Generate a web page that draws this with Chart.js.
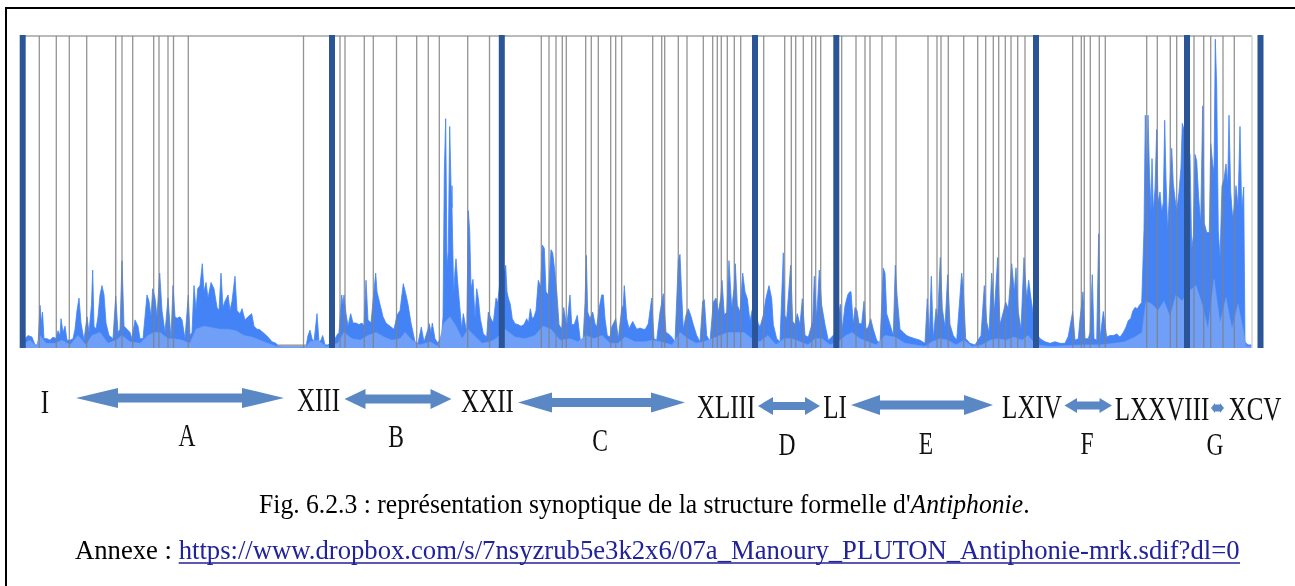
<!DOCTYPE html>
<html lang="fr">
<head>
<meta charset="utf-8">
<title>Antiphonie - structure formelle</title>
<script src="https://cdn.jsdelivr.net/npm/chart.js@4/dist/chart.umd.min.js"></script>
<style>
    html, body {
        margin: 0;
        padding: 0;
        background: #ffffff;
        width: 1295px;
        height: 586px;
        overflow: hidden;
    }
    #frame {
        position: absolute;
        left: 5px;
        top: 7px;
        width: 1400px;
        height: 700px;
        border-left: 2px solid #000;
        border-top: 2px solid #000;
    }
    #plotBox {
        position: absolute;
        left: 17px;
        top: 34px;
        width: 1250px;
        height: 314px;
    }
    #notes {
        position: absolute;
        left: 0;
        top: 0;
        width: 1295px;
        height: 586px;
        pointer-events: none;
    }
</style>
</head>
<body>
<div id="frame"></div>
<div id="plotBox"><canvas id="waveChart"></canvas></div>
<svg id="notes" xmlns="http://www.w3.org/2000/svg" width="1295" height="586"></svg>

<script>
// amplitude envelope (% of full scale), [time, value], one list per section
const peakA = [[0,0],[3,3],[6,4],[10,3.5],[13,1],[16,1],[18,13.7],[19.5,8],[20.5,11.5],[22,3],[25,3],[28,2.5],[31,3.5],[34,3],[36,5.5],[38,4],[39,9.4],[41,5],[43,7],[45,2.5],[48,2.5],[51,3],[53,6],[55,12],[57,16],[59,8],[62,2.5],[65,10],[67,5],[69.5,14],[70.7,25],[72,7],[74,6],[76,10],[78,17],[80,20],[82,17],[84,8],[87,4],[91,3],[93.7,16.7],[96,5],[98,6],[100,28],[102,7],[105,6],[108,5],[110,3],[113,9],[116,7],[118,3],[121,3],[125,17],[127,15],[129,10],[130.7,19],[133,16],[135,10],[137.7,24],[140,12],[143,5],[146,16],[149,3],[151,20],[153,10],[155,9.5],[158,10],[160,9],[163,3],[166.3,17],[168,4],[170,5],[172,20],[174,12],[175.7,19],[178,20],[180.3,27],[182,18],[184,21],[186,16],[189,21],[192,19],[195,13],[197,12],[199,24],[201,13],[203,15],[206,17],[208,12],[210,15],[213,23],[215,12],[218,11],[220,12.6],[223,9],[226,10],[229.7,11],[232,7],[235,6],[237,6],[241,5],[246,3.5],[250,2],[254,1.5],[257,0.5],[260,0.4],[284,0.4],[286,4],[288,5.7],[290,3],[292,2],[295,11],[297,2],[299,2.5],[300.7,4],[303,1],[306,1]];
const peakB = [[310,2],[313,3],[314.7,4],[317,5],[319.7,17],[321,14],[322,17],[324,11],[326,7],[328.7,11],[331,8],[334,8],[337,7.5],[340,8],[342,7],[344,21.7],[346,9],[349,8],[351,15],[353.7,24],[355,18],[358,14],[361,10],[364,8],[368,7],[372,6],[375,10.5],[378,12],[381.3,20.6],[384,17],[386,14],[389,8],[393,2],[396,1.5],[399.3,6.7],[402,2],[406,6],[407.3,7.8],[409,5],[410.3,8],[413,3],[416,1.5],[419.7,4],[421,10],[422.3,56],[423.7,73.5],[425,26],[426.3,31],[427.7,71],[429,52],[430,45],[431.7,17],[433,25],[434,28.6],[435.7,21],[437.3,15],[439.7,6],[441.3,11],[443,8],[444.7,5],[446.3,44],[447.7,37.7],[449,19],[451,22],[453,9.4],[454.7,19],[456.3,16],[458.3,9.4],[461.3,4.6],[464.7,3.5],[466.3,11.5],[469,9.4],[471.3,8],[474,16],[475.7,14.4],[477.5,20],[479.5,22]];
const peakC = [[481,22],[483.7,26.5],[485,18],[486.3,16],[488.3,14],[490.3,9.4],[493,7.8],[496,7.5],[499,7],[502,7.5],[504.7,9.4],[506.5,8],[508.3,12.6],[510.3,9.4],[512,10],[514,12],[516.3,21.7],[518.7,19.5],[520.3,33],[522.3,32],[524,18],[526.3,17],[529,31.5],[530.7,30.5],[533,24],[535,17],[537,7.5],[539.7,6],[541.7,13],[544.7,6.7],[548,17],[549.7,7.5],[552.3,7.5],[555.3,10.5],[558.3,2.5],[561,2],[563,14.4],[564.3,29.7],[565.7,11.5],[568,9.4],[570.7,11.5],[573,7.8],[574.7,6.7],[577,12.6],[579.7,17],[581.3,17],[583,9.4],[585.3,4],[588,3.5],[589.7,6.7],[593.7,9.4],[596.3,3],[599.7,12.6],[601.3,13.7],[602.3,20],[604.7,9.4],[607,6.2],[610.7,8.5],[614.7,6],[618,6.4],[621.3,6],[623.3,6],[626.3,7.8],[629.7,16],[632,3],[634.7,2.5],[638,11.5],[641.3,17.4],[644,5],[646.3,4.6],[649.7,3.5],[653,2],[656.3,28],[658,30],[659.3,20],[661.3,6],[664,10.5],[666.3,12.6],[668.7,10.5],[671.3,7.5],[674.7,4],[678,2],[680.7,15],[682.3,15.5],[684.7,4],[688,2],[691.3,14.7],[694,16],[696.3,11.5],[698.7,16],[700,21.7],[702.3,10.5],[704.7,11.5],[707,28],[709.7,12.6],[712,19],[713.3,27],[715.3,13.7],[718,11.5],[720.7,24],[723,18],[725.3,15.8],[728,8.5],[730,12],[733,14]];
const peakD = [[736,8],[738,6.7],[741.3,10.5],[744,16],[747,20],[749.7,15.8],[751.3,7.5],[754.7,3],[758,2],[761.3,30.5],[762.7,10.5],[764.7,9.4],[768.7,26.5],[770.7,8.5],[773,7.5],[775.3,11],[778,7.5],[780.3,15.8],[783,4],[786.3,3.5],[790.7,8.5],[792.3,23],[794.7,9.4],[797.3,25],[799.7,13.7],[803,7.5],[806.3,2.5],[809.7,3.5],[814,5]];
const peakE = [[818.3,14],[820.3,6],[823,13.5],[825.7,17],[827.7,18],[829,18],[831.3,7.5],[833,13],[835,12],[837,7.8],[839.7,7.8],[842,15],[844,6],[846.3,6.7],[848.7,9.4],[851.3,6],[854.7,2.5],[858,1.5],[861.3,25.6],[863,24],[864.7,11],[868,7.5],[871.3,4],[873.3,26.5],[875,17],[878,6],[881.3,5],[884.7,4],[888,3.5],[893,3],[898,2.5],[903,1.5],[905.3,15.8],[907.3,4],[909.3,23],[911.3,3],[914,12.6],[915.7,9.4],[918.3,29],[920.3,12.6],[923,6.7],[925.7,23.5],[928,7.5],[931.3,4],[934.7,2.5],[939.7,24],[941.3,19],[943.7,3],[948,1.5],[953,1],[959,4],[962.3,20],[964.7,8.3],[967,5],[969.7,24],[972.3,11.5],[975.7,29],[978,7.5],[981.3,11.5],[983.7,14.7],[986.3,12.6],[989.7,27],[992.3,18],[994,25.7],[996.3,11.5],[999,6],[1002,29],[1004.7,15.8],[1006.7,21.7],[1009,15.8],[1014,5]];
const peakF = [[1018,3],[1023,2],[1028,1.5],[1033,2],[1038,1.5],[1043,1.5],[1046.3,3.8],[1050.7,11.7],[1053,2.5],[1056.3,3],[1058,9.4],[1061,18],[1063,3],[1066.3,3],[1068,5],[1069.3,15.8],[1070.3,23.5],[1072,3],[1074.7,2.5],[1076.7,36.6],[1078,3],[1081.3,11.7],[1084.7,3.5],[1088,4],[1091.3,4],[1094.7,4.5],[1098,3.5],[1101.3,5],[1104,6.7],[1106.3,8.8],[1108.7,9.4],[1110.7,11.8],[1113,13],[1115.3,12.6],[1118,14],[1119.7,14.5],[1122,38],[1123.3,74.6],[1124.7,52],[1126,74.6],[1127.3,58],[1129,43.6],[1130,60.7],[1131.3,43.6],[1133,51],[1134.7,70],[1136,46.6],[1138,50],[1139.7,43.6],[1141.3,46.6],[1142.7,73],[1144,54],[1145.7,37.6],[1147.3,48.7],[1149.7,64],[1151.3,52.6],[1153,48],[1154.7,43.6],[1157,50],[1159,58],[1160.3,72],[1162,70],[1165,65]];
const peakG = [[1168,62],[1169.7,31.6],[1171.3,36],[1173,62],[1174.7,60],[1176.7,48],[1178.7,40],[1180.7,77.6],[1182.3,40],[1184.7,37],[1187.3,37],[1188.7,65.5],[1190.7,59],[1192,56],[1193.3,99],[1194.7,83.7],[1196.3,37.6],[1198,28.6],[1200,52],[1202,54],[1204,59],[1205.7,52],[1207,74.6],[1208.7,50],[1210.7,41.5],[1212,44.6],[1214,52],[1216,45.5],[1218,71],[1219.7,44],[1221.7,51.6],[1223,2],[1226,1],[1230,1]];

// mean level (lighter layer)
const rmsLevel = [[0,1],[8,2.5],[14,0.5],[18,4],[24,1.5],[33,1.5],[40,2.5],[48,1],[56,4],[64,1],[70,4],[78,5],[86,1.5],[94,2.5],[100,4],[108,2],[118,1.5],[126,4],[132,5],[138,5],[146,3],[152,3],[160,2.5],[168,1.5],[174,6],[182,7],[190,6.5],[198,6],[206,6],[214,5.5],[222,4],[230,3.5],[238,2.5],[246,1.5],[254,0.5],[260,0.3],[284,0.3],[288,2],[296,2.5],[304,0.5],[310,1],[316,1.5],[322,5],[330,3],[338,2.5],[346,4],[354,5],[362,3.5],[370,2.5],[378,3],[383,5],[390,2.5],[398,1],[408,2],[416,0.5],[422,8],[428,10],[434,7],[440,3],[446,6],[452,4],[460,1.5],[468,2],[474,3],[483,6],[493,3.5],[503,3],[513,4],[521,7],[529,6],[538,2.5],[548,3],[556,2],[564,4],[572,3],[580,4],[588,1.5],[596,1.5],[603,3.5],[613,2],[623,2],[630,2.5],[638,2],[644,1.5],[650,1],[658,5],[666,3],[674,1.5],[682,2],[690,3],[698,4],[706,5],[714,5],[722,5],[730,3],[738,2],[746,4],[754,1],[762,3],[770,3],[778,2],[786,1],[793,3],[800,3],[808,1],[816,2],[824,4],[830,5],[838,3],[846,2],[854,1],[863,4],[873,3.5],[883,1.5],[893,1],[903,0.5],[910,2],[918,3],[926,2.5],[934,1],[942,2.5],[950,0.5],[960,1],[968,2.5],[976,3],[984,2.5],[992,3.5],[1000,2.5],[1006,4],[1014,1],[1028,0.5],[1048,0.8],[1063,1],[1078,1],[1093,1.5],[1103,2],[1113,3.5],[1120,5],[1124,15],[1130,14],[1136,12],[1142,15],[1148,10],[1154,17],[1160,15],[1166,18],[1174,20],[1180,14],[1186,6],[1192,22],[1198,8],[1204,16],[1210,6],[1216,14],[1221,6],[1224,0.5],[1230,0.5]];

const silenceLevel = [[256,0.9],[284,0.9]];

// markers (thin grey) and section boundaries (thick blue)
const markerTimes = [17.3,34.3,47.3,64.7,93.7,100,110.7,131.7,137,146,151.5,166.3,281.5,318,323,342.3,351.3,374.5,394.7,406.3,417.3,445.7,467.5,519.3,527,534,540.3,544.3,563.7,569.3,576.3,588.7,593.7,599.7,630.7,639.7,642.7,656.3,665,681.3,690.7,695.3,699.3,705.3,712.3,718.7,741.7,762.7,769.3,773.7,781.3,789.7,793.7,798.7,819.7,834,843,848,860,874,906,915,919,926.3,941.7,955.7,963.7,971.3,976.7,983.3,989,995.7,1003,1050.7,1059.3,1062.3,1068.3,1077.3,1083.3,1124.7,1135.3,1148.3,1154.7,1172,1181.7,1188.7,1201,1212.3];
const sectionBounds = [0.7, 310, 479.8, 733, 814.3, 1014, 1165, 1238.5];
const frameEnd = 1230;

const sectionNumerals = ['I', 'XIII', 'XXII', 'XLIII', 'LI', 'LXIV', 'LXXVIII', 'XCV'];
const sectionLetters = ['A', 'B', 'C', 'D', 'E', 'F', 'G'];
const captionMain = 'Fig. 6.2.3 : représentation synoptique de la structure formelle d\'';
const captionTitle = 'Antiphonie';
const annexLabel = 'Annexe : ';
const annexUrl = 'https://www.dropbox.com/s/7nsyzrub5e3k2x6/07a_Manoury_PLUTON_Antiphonie-mrk.sdif?dl=0';

// page layout of the annotation row (pixels)
const numeralLayout = [[45, 413], [318.5, 411], [487.5, 412], [726, 418], [835, 418], [1032, 418], [1162, 420], [1255, 420]];
const letterLayout = [[187, 446], [396, 447], [600, 451], [787, 455], [926, 454], [1087, 454], [1215, 455]];
// x1, x2, centre y, head length, head height, shaft height
const arrowLayout = [
    [76, 284, 398, 42, 20, 9],
    [344.5, 451.5, 399, 21, 20, 9],
    [518, 685, 402.5, 34, 20, 9],
    [758, 820, 406, 15, 18, 8],
    [851, 993, 405, 29, 20, 9],
    [1064.5, 1112, 405.5, 12.5, 15, 8],
    [1211, 1224, 408, 4, 10, 7]
];
// caption lines: left x, right x, baseline
const captionLayout = [[259, 1030, 513], [75, 1240, 559]];

const toPoints = (list) => list.map(([x, y]) => ({ x, y }));

const markerLinesPlugin = {
    id: 'markerLines',
    afterDatasetsDraw(chart) {
        const { ctx, scales: { x, y } } = chart;
        const top = y.getPixelForValue(100);
        const bottom = y.getPixelForValue(0);
        ctx.save();

        // frame of the sonogram
        ctx.strokeStyle = '#a3a3a3';
        ctx.lineWidth = 1.6;
        ctx.beginPath();
        ctx.moveTo(x.getPixelForValue(0), top);
        ctx.lineTo(x.getPixelForValue(frameEnd), top);
        ctx.stroke();
        ctx.strokeStyle = '#d6d6d6';
        ctx.beginPath();
        ctx.moveTo(x.getPixelForValue(frameEnd), top);
        ctx.lineTo(x.getPixelForValue(frameEnd), bottom);
        ctx.stroke();

        ctx.strokeStyle = 'rgba(128, 128, 128, 0.85)';
        ctx.lineWidth = 1.3;
        markerTimes.forEach((t) => {
            const px = x.getPixelForValue(t);
            ctx.beginPath();
            ctx.moveTo(px, top);
            ctx.lineTo(px, bottom);
            ctx.stroke();
        });

        ctx.strokeStyle = '#2b5597';
        ctx.lineWidth = 6;
        sectionBounds.forEach((t) => {
            const px = x.getPixelForValue(t);
            ctx.beginPath();
            ctx.moveTo(px, top - 1);
            ctx.lineTo(px, bottom);
            ctx.stroke();
        });
        ctx.restore();
    }
};

class AntiphonieSynopsis {
    constructor() {
        this.chart = null;
        this.svg = document.getElementById('notes');
        this.initChart();
        this.drawAnnotations();
        this.drawCaption();
    }

    initChart() {
        const ctx = document.getElementById('waveChart').getContext('2d');
        const peak = [].concat(peakA, peakB, peakC, peakD, peakE, peakF, peakG);

        this.chart = new Chart(ctx, {
            type: 'line',
            data: {
                datasets: [{
                    label: 'rms',
                    data: toPoints(rmsLevel),
                    borderColor: '#6f9ff7',
                    backgroundColor: '#6f9ff7',
                    borderWidth: 0.6,
                    fill: 'origin',
                    tension: 0,
                    pointRadius: 0,
                    order: 0
                }, {
                    label: 'silence',
                    data: toPoints(silenceLevel),
                    borderColor: '#9c9c9c',
                    borderWidth: 1.5,
                    fill: false,
                    pointRadius: 0,
                    order: 0
                }, {
                    label: 'peak',
                    data: toPoints(peak),
                    borderColor: '#4383f6',
                    backgroundColor: '#4383f6',
                    borderWidth: 0.8,
                    fill: 'origin',
                    tension: 0,
                    pointRadius: 0,
                    order: 1
                }]
            },
            options: {
                responsive: true,
                maintainAspectRatio: false,
                animation: false,
                layout: {
                    padding: { top: 2, left: 0, right: 0, bottom: 0 }
                },
                plugins: {
                    legend: { display: false },
                    tooltip: { enabled: false }
                },
                scales: {
                    x: { type: 'linear', min: -5, max: 1245, display: false },
                    y: { min: 0, max: 100, display: false }
                }
            },
            plugins: [markerLinesPlugin]
        });
    }

    makeEl(tag, attrs, text, parent) {
        const el = document.createElementNS('http://www.w3.org/2000/svg', tag);
        Object.keys(attrs).forEach((k) => el.setAttribute(k, attrs[k]));
        if (text !== undefined) {
            el.textContent = text;
        }
        (parent || this.svg).appendChild(el);
        return el;
    }

    drawAnnotations() {
        arrowLayout.forEach(([x1, x2, cy, hl, hh, sh]) => {
            const pts = [
                [x1, cy], [x1 + hl, cy - hh / 2], [x1 + hl, cy - sh / 2],
                [x2 - hl, cy - sh / 2], [x2 - hl, cy - hh / 2], [x2, cy],
                [x2 - hl, cy + hh / 2], [x2 - hl, cy + sh / 2],
                [x1 + hl, cy + sh / 2], [x1 + hl, cy + hh / 2]
            ];
            this.makeEl('polygon', {
                points: pts.map((p) => p.join(',')).join(' '),
                fill: '#5a88c5'
            });
        });

        sectionNumerals.forEach((label, i) => {
            const [cx, base] = numeralLayout[i];
            this.makeEl('text', {
                transform: `translate(${cx},${base}) scale(0.76,1)`,
                'text-anchor': 'middle',
                'font-family': 'Liberation Serif, Times New Roman, serif',
                'font-size': '33',
                fill: '#111'
            }, label);
        });

        sectionLetters.forEach((label, i) => {
            const [cx, base] = letterLayout[i];
            this.makeEl('text', {
                transform: `translate(${cx},${base}) scale(0.76,1)`,
                'text-anchor': 'middle',
                'font-family': 'Liberation Serif, Times New Roman, serif',
                'font-size': '31',
                fill: '#111'
            }, label);
        });
    }

    // squeeze a caption line so it spans the same width as in the figure
    fitLine(textEl, left, right) {
        const width = textEl.getComputedTextLength();
        const k = (right - left) / width;
        textEl.setAttribute('transform', `translate(${left},0) scale(${k},1) translate(${-left},0)`);
        return k;
    }

    drawCaption() {
        const font = 'Liberation Serif, Times New Roman, serif';
        const [l1, r1, b1] = captionLayout[0];
        const [l2, r2, b2] = captionLayout[1];

        const line1 = this.makeEl('text', {
            x: l1, y: b1, 'font-family': font, 'font-size': '27', fill: '#000'
        });
        this.makeEl('tspan', {}, captionMain, line1);
        this.makeEl('tspan', { 'font-style': 'italic' }, captionTitle, line1);
        this.makeEl('tspan', {}, '.', line1);
        this.fitLine(line1, l1, r1);

        const line2 = this.makeEl('text', {
            x: l2, y: b2, 'font-family': font, 'font-size': '27', fill: '#000'
        });
        this.makeEl('tspan', {}, annexLabel, line2);
        this.makeEl('tspan', { fill: '#22229a' }, annexUrl, line2);
        const k = this.fitLine(line2, l2, r2);

        // underline of the link
        const start = l2 + line2.getSubStringLength(0, annexLabel.length) * k;
        this.makeEl('line', {
            x1: start, x2: r2, y1: b2 + 4, y2: b2 + 4,
            stroke: '#22229a', 'stroke-width': 1.6
        });
    }
}

document.addEventListener('DOMContentLoaded', () => {
    window.synopsis = new AntiphonieSynopsis();
});
</script>
</body>
</html>
